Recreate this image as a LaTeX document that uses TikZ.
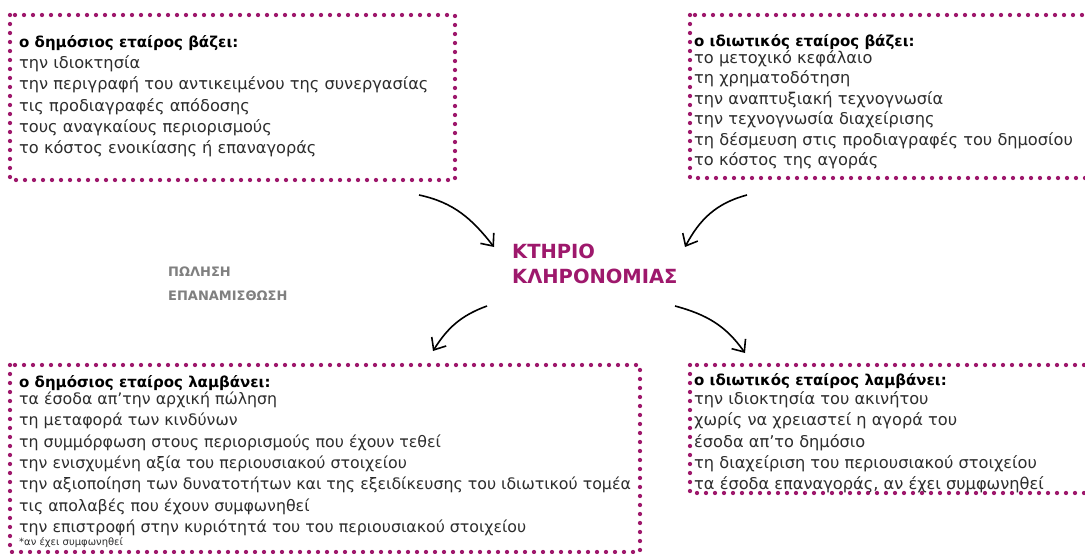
\documentclass[tikz,border=0pt]{standalone}
\usepackage{fontspec}
\setmainfont{DejaVu Sans}
\usetikzlibrary{arrows.meta}
\definecolor{mag}{RGB}{158,24,108}
\definecolor{gry}{RGB}{128,128,128}
\definecolor{txt}{RGB}{45,45,45}
\begin{document}
\begin{tikzpicture}[x=1pt,y=-1pt,
  dotbox/.style={draw=mag, line width=4.3pt, line cap=round, dash pattern=on 0pt off 9pt},
  body/.style={anchor=north west, inner sep=0pt, align=left, text=txt,
    font=\fontsize{16.2}{21.3}\selectfont},
  center/.style={anchor=north west, inner sep=0pt, align=left, text=mag,
    font=\fontsize{19.5}{25}\selectfont\bfseries},
  side/.style={anchor=north west, inner sep=0pt, align=left, text=gry,
    font=\fontsize{13}{24}\selectfont\bfseries},
  arr/.style={line width=1.6pt, -{Straight Barb[length=10pt,width=17pt]}}]
\clip (0,0) rectangle (1085,554);
\fill[white] (0,0) rectangle (1085,554);

% boxes
\draw[dotbox] (10,15) rectangle (455,180);
\draw[dotbox] (690,15) rectangle (1110,178);
\draw[dotbox] (10,365) rectangle (640,552);
\draw[dotbox] (690,365) rectangle (1110,493);

\node[body] (pubput) at (19,35) {{\fontsize{15}{21.3}\selectfont\bfseries\color{black} ο δημόσιος εταίρος βάζει:}\\
την ιδιοκτησία\\
την περιγραφή του αντικειμένου της συνεργασίας\\
τις προδιαγραφές απόδοσης\\
τους αναγκαίους περιορισμούς\\
το κόστος ενοικίασης ή επαναγοράς};

\node[body, font=\fontsize{16.2}{20.4}\selectfont] (privput) at (694,34) {{\fontsize{15}{20.4}\selectfont\bfseries\color{black} ο ιδιωτικός εταίρος βάζει:}\\[-3pt]
το μετοχικό κεφάλαιο\\
τη χρηματοδότηση\\
την αναπτυξιακή τεχνογνωσία\\
την τεχνογνωσία διαχείρισης\\
τη δέσμευση στις προδιαγραφές του δημοσίου\\
το κόστος της αγοράς};

\node[body, font=\fontsize{15.8}{21.3}\selectfont] (pubget) at (19,375) {{\fontsize{15}{21.3}\selectfont\bfseries\color{black} ο δημόσιος εταίρος λαμβάνει:}\\[-4pt]
τα έσοδα απ'την αρχική πώληση\\
τη μεταφορά των κινδύνων\\
τη συμμόρφωση στους περιορισμούς που έχουν τεθεί\\
την ενισχυμένη αξία του περιουσιακού στοιχείου\\
την αξιοποίηση των δυνατοτήτων και της εξειδίκευσης του ιδιωτικού τομέα\\
τις απολαβές που έχουν συμφωνηθεί\\
την επιστροφή στην κυριότητά του του περιουσιακού στοιχείου\\[-8pt]
{\fontsize{10}{10}\selectfont *αν έχει συμφωνηθεί}};

\node[body] (privget) at (694,373) {{\fontsize{15}{21.3}\selectfont\bfseries\color{black} ο ιδιωτικός εταίρος λαμβάνει:}\\[-2pt]
την ιδιοκτησία του ακινήτου\\
χωρίς να χρειαστεί η αγορά του\\
έσοδα απ'το δημόσιο\\
τη διαχείριση του περιουσιακού στοιχείου\\
τα έσοδα επαναγοράς, αν έχει συμφωνηθεί};

\node[center] (bldg) at (512,244) {ΚΤΗΡΙΟ\\ΚΛΗΡΟΝΟΜΙΑΣ};
\node[side] (deal) at (168,267) {ΠΩΛΗΣΗ\\ΕΠΑΝΑΜΙΣΘΩΣΗ};

\coordinate (a1s) at (419,195);
\coordinate (a1e) at (494,247);
\coordinate (a2s) at (747,195);
\coordinate (a2e) at (685,247);
\coordinate (a3s) at (487,306);
\coordinate (a3e) at (433,351);
\coordinate (a4s) at (675,306);
\coordinate (a4e) at (745,353);

\draw[arr] (a1s) to[out=-12,in=128] (a1e);
\draw[arr] (a2s) to[out=195,in=62] (a2e);
\draw[arr] (a3s) to[out=200,in=58] (a3e);
\draw[arr] (a4s) to[out=-15,in=125] (a4e);
\end{tikzpicture}
\end{document}
